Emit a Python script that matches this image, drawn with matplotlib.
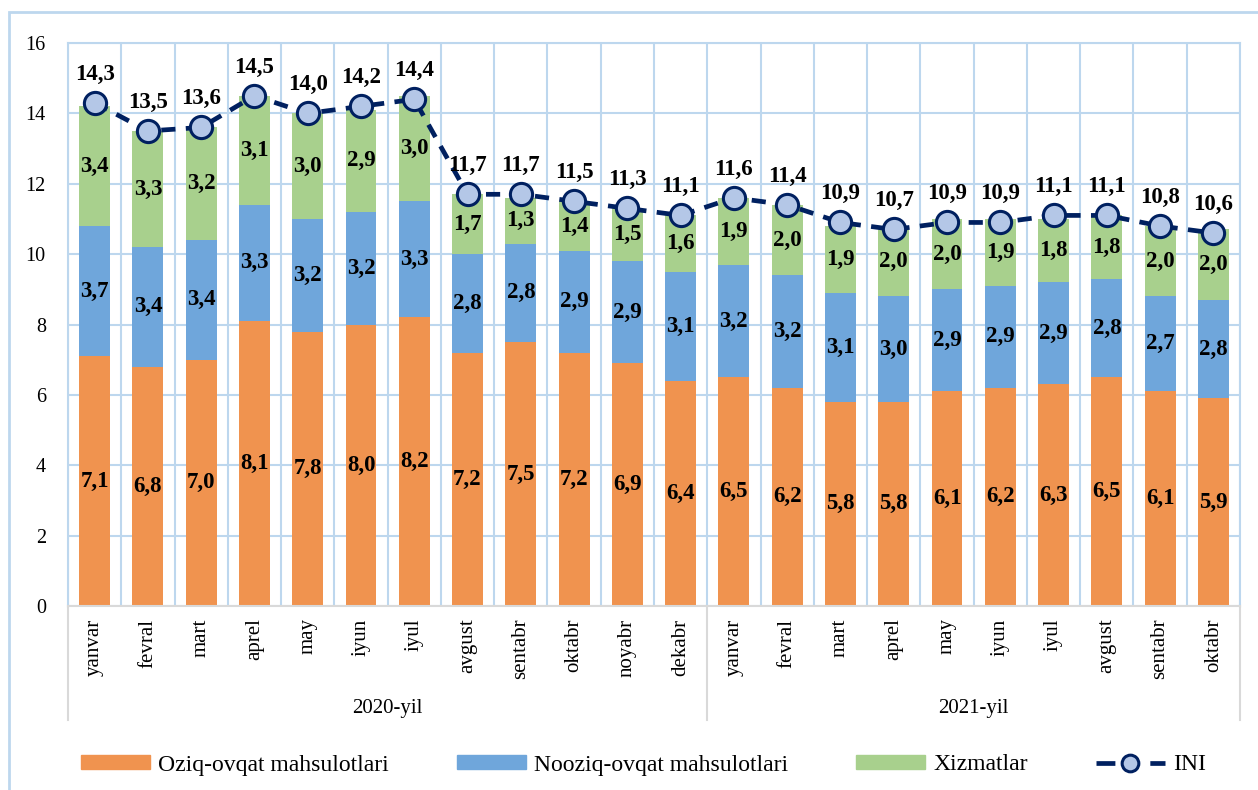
import numpy as np
import matplotlib
matplotlib.use("Agg")
import matplotlib.pyplot as plt
from matplotlib.patches import Patch, Rectangle
from matplotlib.lines import Line2D

plt.rcParams['font.family'] = ['Liberation Serif', 'DejaVu Serif']

months = ["yanvar", "fevral", "mart", "aprel", "may", "iyun", "iyul", "avgust",
          "sentabr", "oktabr", "noyabr", "dekabr",
          "yanvar", "fevral", "mart", "aprel", "may", "iyun", "iyul", "avgust",
          "sentabr", "oktabr"]
years = ["2020-yil", "2021-yil"]
year_counts = [12, 10]

oziq = [7.1, 6.8, 7.0, 8.1, 7.8, 8.0, 8.2, 7.2, 7.5, 7.2, 6.9, 6.4,
        6.5, 6.2, 5.8, 5.8, 6.1, 6.2, 6.3, 6.5, 6.1, 5.9]
nooziq = [3.7, 3.4, 3.4, 3.3, 3.2, 3.2, 3.3, 2.8, 2.8, 2.9, 2.9, 3.1,
          3.2, 3.2, 3.1, 3.0, 2.9, 2.9, 2.9, 2.8, 2.7, 2.8]
xizmat = [3.4, 3.3, 3.2, 3.1, 3.0, 2.9, 3.0, 1.7, 1.3, 1.4, 1.5, 1.6,
          1.9, 2.0, 1.9, 2.0, 2.0, 1.9, 1.8, 1.8, 2.0, 2.0]
ini = [14.3, 13.5, 13.6, 14.5, 14.0, 14.2, 14.4, 11.7, 11.7, 11.5, 11.3, 11.1,
       11.6, 11.4, 10.9, 10.7, 10.9, 10.9, 11.1, 11.1, 10.8, 10.6]

c_orange = "#F0934F"
c_blue = "#6FA6DB"
c_green = "#A8D08D"
c_navy = "#002060"
c_marker = "#B4C7E7"
c_grid = "#BDD7EE"

W, H = 1258, 790
fig = plt.figure(figsize=(W / 100, H / 100), dpi=100)
ax = fig.add_axes([68 / W, (H - 606) / H, (1240 - 68) / W, (606 - 43) / H])

# outer border
fig.patches.append(Rectangle((9 / W, -0.05), 1.1, 1 - 12 / H + 0.05,
                             transform=fig.transFigure, fill=False,
                             edgecolor=c_grid, linewidth=2))

x = np.arange(len(months))
a = np.array(oziq)
b = np.array(nooziq)
c = np.array(xizmat)
w = 0.58
ax.bar(x, a, w, color=c_orange, zorder=2)
ax.bar(x, b, w, bottom=a, color=c_blue, zorder=2)
ax.bar(x, c, w, bottom=a + b, color=c_green, zorder=2)

lab = dict(ha="center", va="center", fontsize=16.5, fontweight="bold", zorder=4)
for i in x:
    ax.text(i, a[i] / 2, f"{a[i]:.1f}".replace(".", ","), **lab)
    ax.text(i, a[i] + b[i] / 2, f"{b[i]:.1f}".replace(".", ","), **lab)
    ax.text(i, a[i] + b[i] + c[i] / 2, f"{c[i]:.1f}".replace(".", ","), **lab)

ax.plot(x, ini, color=c_navy, linewidth=3.4, linestyle=(0, (3, 2.2)),
        marker="o", markersize=16, markerfacecolor=c_marker,
        markeredgecolor=c_navy, markeredgewidth=2.2, zorder=5)
for i in x:
    ax.annotate(f"{ini[i]:.1f}".replace(".", ","), (i, ini[i]),
                xytext=(0, 13), textcoords="offset points",
                ha="center", va="bottom", fontsize=16.5, fontweight="bold", zorder=6)

ax.set_xlim(-0.5, len(months) - 0.5)
ax.set_ylim(0, 16)
ax.set_yticks(range(0, 17, 2))
ax.tick_params(axis="y", length=0, pad=16, labelsize=14.5)
ax.set_xticks(x)
ax.set_xticklabels(months, rotation=90, fontsize=15)
ax.tick_params(axis="x", length=0, pad=9)
ax.set_xticks(np.arange(-0.5, len(months), 1), minor=True)
ax.tick_params(axis="x", which="minor", length=0)
ax.grid(True, axis="y", color=c_grid, linewidth=1.5, zorder=0)
ax.grid(True, axis="x", which="minor", color=c_grid, linewidth=1.5, zorder=0)
ax.grid(False, axis="x", which="major")
ax.set_axisbelow(True)
for s in ["top", "left", "right"]:
    ax.spines[s].set_color(c_grid)
    ax.spines[s].set_linewidth(1.5)
ax.spines["bottom"].set_color("#D9D9D9")
ax.spines["bottom"].set_linewidth(1.5)

# year groups
depth = -(720 - 606) / (606 - 43)
start = -0.5
edges = [start]
for yr, n in zip(years, year_counts):
    mid = start + n / 2
    ax.text(mid, -(708 - 606) / (606 - 43), yr, transform=ax.get_xaxis_transform(),
            ha="center", va="center", fontsize=15)
    start += n
    edges.append(start)
for e in edges:
    ax.add_line(Line2D([e, e], [0, depth], transform=ax.get_xaxis_transform(),
                       color="#D9D9D9", linewidth=1.5, clip_on=False))

handles = [Patch(color=c_orange), Patch(color=c_blue), Patch(color=c_green),
           Line2D([], [], color=c_navy, linewidth=3.4, linestyle=(0, (4, 7.4)),
                  marker="o", markersize=12, markerfacecolor=c_marker,
                  markeredgecolor=c_navy, markeredgewidth=2.2)]
names = ["Oziq-ovqat mahsulotlari", "Nooziq-ovqat mahsulotlari", "Xizmatlar", "INI"]
fig.legend(handles, names, loc="center", bbox_to_anchor=(0.5115, (H - 765) / H),
           ncol=4, frameon=False, fontsize=17, handlelength=2.9, handleheight=0.55,
           columnspacing=2.9, handletextpad=0.35)

fig.savefig("out.png", dpi=100)
